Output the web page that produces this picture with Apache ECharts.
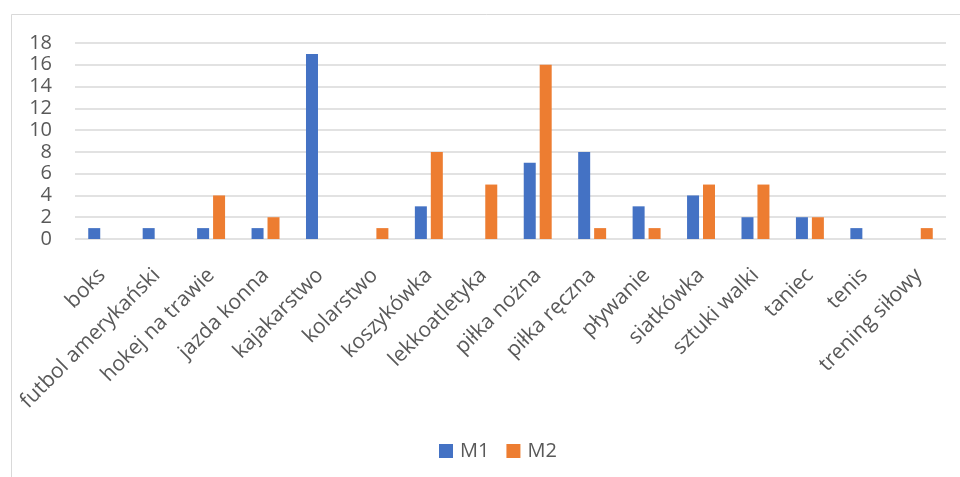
<!DOCTYPE html>
<html>
<head>
<meta charset="utf-8">
<script src="https://cdn.jsdelivr.net/npm/echarts@6/dist/echarts.min.js"></script>
<style>
  html, body { margin: 0; padding: 0; background: #ffffff; }
  #chart { width: 960px; height: 477px; }
</style>
</head>
<body>
<div id="chart"></div>
<script>
// Sports categories and counts per group
const categories = [
  'boks', 'futbol amerykański', 'hokej na trawie', 'jazda konna', 'kajakarstwo',
  'kolarstwo', 'koszykówka', 'lekkoatletyka', 'piłka nożna', 'piłka ręczna',
  'pływanie', 'siatkówka', 'sztuki walki', 'taniec', 'tenis', 'trening siłowy'
];
const seriesNames = ['M1', 'M2'];
const m1Values = [1, 1, 1, 1, 17, 0, 3, 0, 7, 8, 3, 4, 2, 2, 1, 0];
const m2Values = [0, 0, 4, 2, 0, 1, 8, 5, 16, 1, 1, 5, 5, 2, 0, 1];
const yTicks = [0, 2, 4, 6, 8, 10, 12, 14, 16, 18];

const textColor = '#595959';
const gridColor = '#d9d9d9';
const fontFamily = '"Open Sans", "DejaVu Sans", sans-serif';

const chart = echarts.init(document.getElementById('chart'), null, { renderer: 'canvas' });

chart.setOption({
  animation: false,
  backgroundColor: '#ffffff',
  color: ['#4472C4', '#ED7D31'],
  graphic: [{
    type: 'rect',
    shape: { x: 11.5, y: 14.5, width: 1000, height: 500 },
    style: { fill: 'none', stroke: gridColor, lineWidth: 1 },
    silent: true,
    z: -1
  }],
  grid: {
    left: 75,
    right: 14,
    top: 43,
    bottom: 238,
    containLabel: false
  },
  legend: {
    data: seriesNames,
    top: 436,
    left: 434,
    itemWidth: 14,
    itemHeight: 14,
    itemGap: 17,
    icon: 'rect',
    textStyle: { color: textColor, fontSize: 20, fontFamily: fontFamily, padding: [0, 0, 0, 2] }
  },
  xAxis: {
    type: 'category',
    data: categories,
    axisTick: { show: false },
    axisLine: { show: false },
    axisLabel: {
      interval: 0,
      rotate: 45,
      margin: 33,
      color: textColor,
      fontSize: 21,
      fontFamily: fontFamily
    }
  },
  yAxis: {
    type: 'value',
    min: yTicks[0],
    max: yTicks[yTicks.length - 1],
    interval: yTicks[1] - yTicks[0],
    axisLine: { show: false },
    axisTick: { show: false },
    axisLabel: {
      margin: 23,
      color: textColor,
      fontSize: 20,
      fontFamily: fontFamily
    },
    splitLine: { lineStyle: { color: gridColor, width: 1.5 } }
  },
  series: [
    {
      name: seriesNames[0],
      type: 'bar',
      data: m1Values,
      barWidth: 12,
      barGap: '33%'
    },
    {
      name: seriesNames[1],
      type: 'bar',
      data: m2Values,
      barWidth: 12,
      barGap: '33%'
    }
  ]
});
</script>
</body>
</html>
